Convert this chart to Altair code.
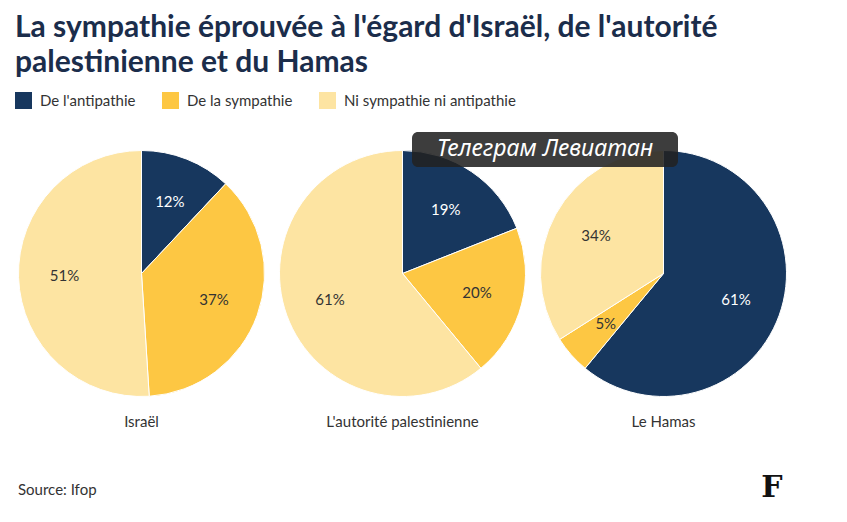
import altair as alt
import pandas as pd

entities = ["Israël", "L'autorité palestinienne", "Le Hamas"]
categories = ["De l'antipathie", "De la sympathie", "Ni sympathie ni antipathie"]
antipathie = [12, 19, 61]
sympathie = [37, 20, 5]
ni_ni = [51, 61, 34]
colors = ["#17375e", "#fdc743", "#fde4a2"]
label_colors = ["#ffffff", "#333333", "#333333"]

rows = []
for i, e in enumerate(entities):
    for k, (cat, vals) in enumerate(zip(categories, [antipathie, sympathie, ni_ni])):
        rows.append({"entity": e, "category": cat, "value": vals[i], "ord": k,
                     "label": f"{vals[i]}%", "tc": label_colors[k]})
df = pd.DataFrame(rows)

FONT = "Lato"
R = 123

color = alt.Color("category:N", scale=alt.Scale(domain=categories, range=colors),
                  sort=categories,
                  legend=alt.Legend(title=None, orient="none", legendX=-3, legendY=-58,
                                    direction="horizontal",
                                    symbolType="square", symbolSize=289, symbolStrokeWidth=0,
                                    labelFontSize=15, labelColor="#333333", labelFont=FONT,
                                    labelLimit=400, columnPadding=26, labelOffset=8))

def text_chart(t, **kw):
    return alt.Chart(pd.DataFrame({"t": [t]})).mark_text(**kw)

def panel(e, extra=()):
    base = alt.Chart(df).transform_filter(alt.datum.entity == e)
    arc = base.mark_arc(outerRadius=R, stroke="#ffffff", strokeWidth=1).encode(
        theta=alt.Theta("value:Q", stack=True),
        color=color,
        order=alt.Order("ord:Q"),
    )
    txt = base.mark_text(radius=77, fontSize=15, font=FONT).encode(
        theta=alt.Theta("value:Q", stack=True),
        order=alt.Order("ord:Q"),
        text="label:N",
        color=alt.Color("tc:N", scale=None),
    )
    name = text_chart(e, align="center", baseline="middle", fontSize=15, font=FONT,
                      color="#333333").encode(text="t:N", x=alt.value(123.5), y=alt.value(272))
    return alt.layer(arc, txt, name, *extra).properties(width=247, height=247)

source = text_chart("Source: Ifop", align="left", baseline="middle", fontSize=15, font=FONT,
                    color="#333333").encode(text="t:N", x=alt.value(0), y=alt.value(340))
logo = text_chart("F", align="center", baseline="middle", fontSize=30, font="DejaVu Serif",
                  fontWeight="bold", color="#111111").encode(
    text="t:N", x=alt.value(232), y=alt.value(338))
wm_box = alt.Chart(pd.DataFrame({"t": [""]})).mark_rect(
    color="#222222", opacity=0.88, cornerRadius=6
).encode(x=alt.value(-128), x2=alt.value(138), y=alt.value(-18), y2=alt.value(17))
wm_txt = text_chart("Телеграм Левиатан", align="center", baseline="middle", fontSize=23,
                    font="Noto Sans", fontStyle="italic", color="#ffffff").encode(
    text="t:N", x=alt.value(5), y=alt.value(-1))

chart = alt.hconcat(
    panel(entities[0], [source]),
    panel(entities[1]),
    panel(entities[2], [wm_box, wm_txt, logo]),
    spacing=14, bounds="flush",
).properties(
    title=alt.TitleParams(
        ["La sympathie éprouvée à l'égard d'Israël, de l'autorité", "palestinienne et du Hamas"],
        anchor="start", fontSize=30, fontWeight="bold", color="#1b2d4b", font=FONT,
        lineHeight=35, offset=14,
    ),
    padding={"left": 7, "top": 5, "right": 5, "bottom": 5},
    background="#ffffff",
).configure_view(strokeWidth=0)

chart.save("out.html", embed_options={"renderer": "svg", "actions": False})
